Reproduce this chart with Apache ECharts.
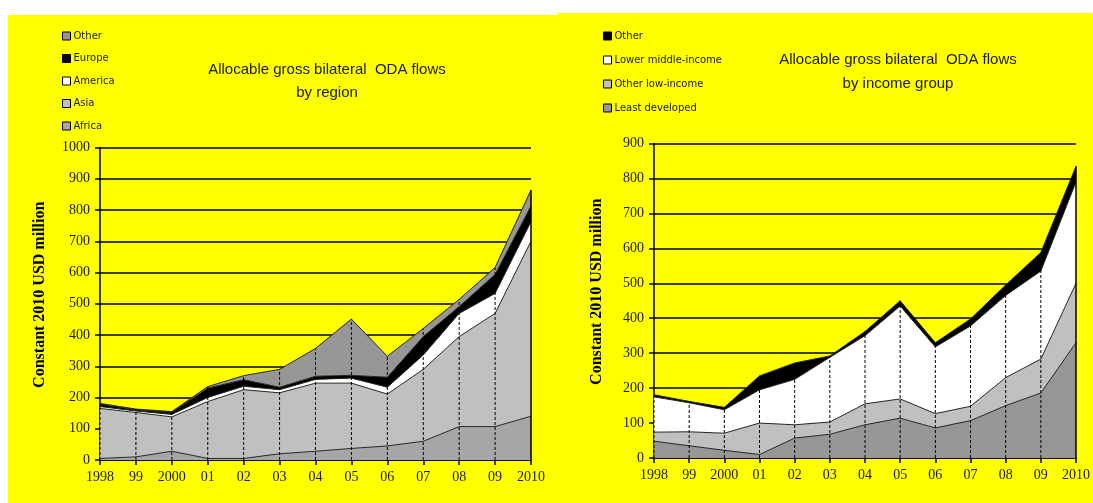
<!DOCTYPE html>
<html>
<head>
<meta charset="utf-8">
<script src="https://cdn.jsdelivr.net/npm/echarts@6/dist/echarts.min.js"></script>
<style>
  html, body { margin: 0; padding: 0; background: #ffffff; }
  #chart { width: 1093px; height: 503px; }
</style>
</head>
<body>
<div id="chart"></div>
<script>
// Years on the horizontal axis (shared by both panels)
const years = ['1998', '99', '2000', '01', '02', '03', '04', '05', '06', '07', '08', '09', '2010'];

// Allocable gross bilateral ODA by region, constant 2010 USD million
const africa      = [5, 10, 28, 5, 5, 20, 28, 37, 45, 60, 107, 107, 140];
const asia        = [160, 142, 110, 182, 220, 195, 218, 209, 166, 230, 288, 362, 560];
const america     = [6, 5, 8, 13, 11, 10, 12, 16, 22, 46, 74, 64, 63];
const europe      = [8, 4, 7, 30, 21, 8, 10, 9, 32, 59, 22, 61, 50];
const otherRegion = [2, 2, 2, 5, 13, 57, 89, 180, 67, 26, 23, 22, 51];

// Allocable gross bilateral ODA by income group, constant 2010 USD million
const leastDeveloped    = [48, 35, 22, 10, 57, 68, 95, 114, 86, 107, 150, 186, 330];
const otherLowIncome    = [26, 40, 49, 90, 38, 35, 60, 55, 41, 41, 80, 97, 170];
const lowerMiddleIncome = [101, 83, 67, 95, 130, 185, 195, 266, 191, 230, 235, 252, 290];
const otherIncome       = [6, 4, 7, 40, 47, 4, 12, 15, 12, 20, 30, 53, 45];

const yAxisTitle = 'Constant 2010 USD million';
const titleRegion = 'Allocable gross bilateral  ODA flows\nby region';
const titleIncome = 'Allocable gross bilateral  ODA flows\nby income group';

const INK = '#1c1c00';
const SERIF = "'Liberation Serif', 'Times New Roman', serif";
const SANS = "'Liberation Sans', Arial, sans-serif";
const LEGEND_FONT = "'DejaVu Sans', Verdana, sans-serif";

function sumColumns(arrays) {
  return years.map((_, i) => arrays.reduce((s, a) => s + a[i], 0));
}

function areaSeries(name, values, color, axis) {
  return {
    name: name,
    type: 'line',
    stack: 'stack' + axis,
    xAxisIndex: axis,
    yAxisIndex: axis,
    data: values,
    showSymbol: false,
    symbol: 'none',
    silent: true,
    lineStyle: { color: '#262626', width: 1 },
    areaStyle: { color: color, opacity: 1 },
    z: 2
  };
}

// Excel-style drop lines from the axis up to the top of the stack
function dropLines(totals, axis) {
  return {
    type: 'custom',
    xAxisIndex: axis,
    yAxisIndex: axis,
    silent: true,
    z: 6,
    data: totals.map((t, i) => [i, t]),
    renderItem: function (params, api) {
      const i = api.value(0);
      const p0 = api.coord([i, 0]);
      const p1 = api.coord([i, api.value(1)]);
      const last = params.dataIndex === years.length - 1;
      return {
        type: 'line',
        shape: { x1: p0[0], y1: p0[1], x2: p1[0], y2: p1[1] },
        style: { stroke: '#000', lineWidth: last ? 1.5 : 1, lineDash: last ? null : [3, 2] }
      };
    }
  };
}

function xAxisDef(gridIndex) {
  return {
    type: 'category',
    gridIndex: gridIndex,
    data: years,
    boundaryGap: false,
    axisLine: { show: true, lineStyle: { color: '#000', width: 1.5 } },
    axisTick: { show: true, length: 5, lineStyle: { color: '#000', width: 1.5 } },
    axisLabel: { color: INK, fontFamily: SERIF, fontSize: 14, margin: 10, interval: 0 },
    splitLine: { show: false }
  };
}

function yAxisDef(gridIndex, max, gap) {
  return {
    type: 'value',
    gridIndex: gridIndex,
    min: 0,
    max: max,
    interval: 100,
    name: yAxisTitle,
    nameLocation: 'middle',
    nameGap: gap,
    nameRotate: 90,
    nameTextStyle: { color: '#000', fontFamily: SERIF, fontSize: 16, fontWeight: 'bold', padding: [0, 0, 0, 18] },
    axisLine: { show: true, lineStyle: { color: '#000', width: 1.5 } },
    axisTick: { show: true, length: 5, lineStyle: { color: '#000', width: 1.5 } },
    axisLabel: { color: INK, fontFamily: SERIF, fontSize: 14, margin: 10, formatter: v => String(v) },
    splitLine: { show: true, lineStyle: { color: '#000', width: 1.5 } }
  };
}

function legendDef(left, top, gap, items) {
  return {
    orient: 'vertical',
    left: left,
    top: top,
    itemWidth: 8,
    itemHeight: 8,
    itemGap: gap,
    icon: 'rect',
    selectedMode: false,
    textStyle: { color: INK, fontFamily: LEGEND_FONT, fontSize: 10, lineHeight: 12, padding: [0, 0, 0, -2] },
    data: items.map(([name, color]) => ({
      name: name,
      icon: 'rect',
      itemStyle: { color: color, borderColor: '#000', borderWidth: 1 }
    }))
  };
}

const chart = echarts.init(document.getElementById('chart'), null, { renderer: 'canvas' });

const option = {
  backgroundColor: '#ffffff',
  animation: false,
  graphic: [
    { type: 'rect', z: -10, silent: true, shape: { x: 8, y: 15, width: 552, height: 488 }, style: { fill: '#ffff00' } },
    { type: 'rect', z: -10, silent: true, shape: { x: 558, y: 13, width: 535, height: 490 }, style: { fill: '#ffff00' } }
  ],
  title: [
    { text: titleRegion, left: 322, top: 53, textAlign: 'center',
      textStyle: { color: INK, fontFamily: SANS, fontSize: 15, fontWeight: 'normal', lineHeight: 23 } },
    { text: titleIncome, left: 893, top: 43, textAlign: 'center',
      textStyle: { color: INK, fontFamily: SANS, fontSize: 15, fontWeight: 'normal', lineHeight: 24 } }
  ],
  legend: [
    legendDef(57, 25, 10.5, [['Other', '#969696'], ['Europe', '#000000'], ['America', '#ffffff'], ['Asia', '#c0c0c0'], ['Africa', '#a6a6a6']]),
    legendDef(598, 25, 12, [['Other', '#000000'], ['Lower middle-income', '#ffffff'], ['Other low-income', '#c0c0c0'], ['Least developed', '#969696']])
  ],
  grid: [
    { left: 100, top: 147.5, width: 431, bottom: 43 },
    { left: 654, top: 143.5, width: 424, bottom: 45 }
  ],
  xAxis: [xAxisDef(0), xAxisDef(1)],
  yAxis: [yAxisDef(0, 1000, 52), yAxisDef(1, 900, 49)],
  series: [
    areaSeries('Africa', africa, '#a6a6a6', 0),
    areaSeries('Asia', asia, '#c0c0c0', 0),
    areaSeries('America', america, '#ffffff', 0),
    areaSeries('Europe', europe, '#000000', 0),
    areaSeries('Other', otherRegion, '#969696', 0),
    dropLines(sumColumns([africa, asia, america, europe, otherRegion]), 0),

    areaSeries('Least developed', leastDeveloped, '#969696', 1),
    areaSeries('Other low-income', otherLowIncome, '#c0c0c0', 1),
    areaSeries('Lower middle-income', lowerMiddleIncome, '#ffffff', 1),
    areaSeries('Other', otherIncome, '#000000', 1),
    dropLines(sumColumns([leastDeveloped, otherLowIncome, lowerMiddleIncome, otherIncome]), 1)
  ]
};

chart.setOption(option);
</script>
</body>
</html>
